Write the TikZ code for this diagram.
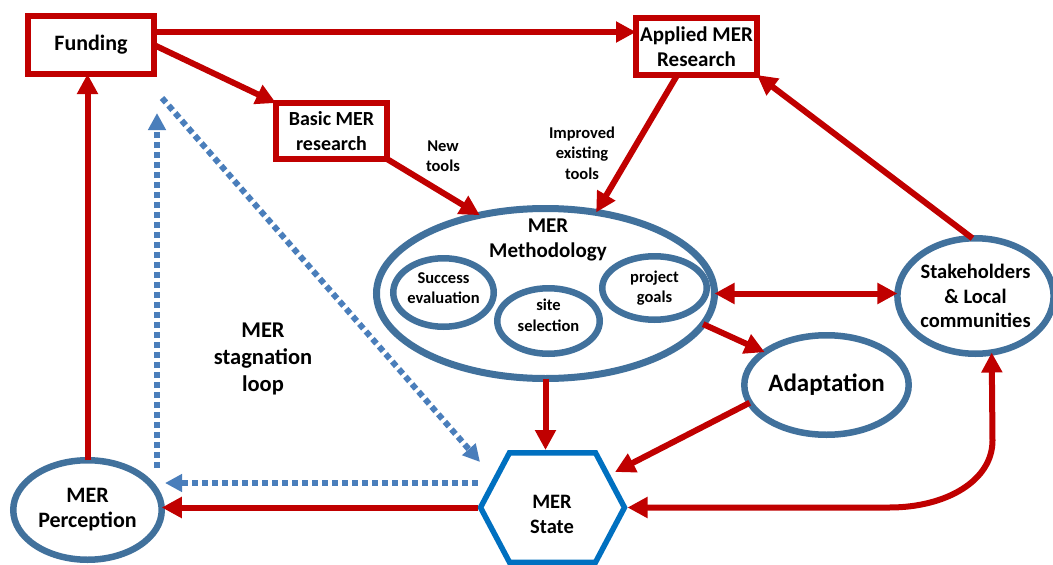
\documentclass[tikz,border=0pt]{standalone}
\usepackage{fontspec}
\setmainfont{Carlito}
\usetikzlibrary{arrows.meta,shapes.geometric,calc}
\definecolor{mred}{RGB}{192,0,0}
\definecolor{mblue}{RGB}{65,113,156}
\definecolor{hblue}{RGB}{0,112,192}
\definecolor{dblue}{RGB}{74,126,187}
\newcommand{\fs}[2]{\bfseries\fontsize{#1}{#2}\selectfont}
\begin{document}
\begin{tikzpicture}[x=1pt,y=-1pt,
  box/.style={draw=mred,line width=6pt,rectangle,inner sep=0pt,outer sep=0pt,align=center},
  oval/.style={draw=mblue,line width=6.5pt,ellipse,inner sep=0pt,outer sep=0pt,align=center},
  lbl/.style={align=center,inner sep=0pt},
  rarrow/.style={draw=mred,line width=6pt,-{Triangle[length=20pt,width=20pt]}},
  rdarrow/.style={draw=mred,line width=6pt,{Triangle[length=20pt,width=20pt]}-{Triangle[length=20pt,width=20pt]}},
  darrow/.style={draw=dblue,line width=6pt,dash pattern=on 6pt off 4pt,-{Triangle[length=17pt,width=17pt]}}
]
\fill[white] (0,0) rectangle (1053,565);
\useasboundingbox (0,0) rectangle (1053,565);

% boxes
\node[box,minimum width=126pt,minimum height=58pt,font=\fs{22}{26}] (fund) at (91,45) {Funding};
\node[box,minimum width=121pt,minimum height=57pt,font=\fs{21}{25.5}] (appl) at (696.5,46.5) {Applied MER\\Research};
\node[box,minimum width=111pt,minimum height=56pt,font=\fs{20}{25}] (basic) at (331.5,131) {Basic MER\\research};

% ellipses
\node[oval,line width=7pt,minimum width=338pt,minimum height=170pt] (meth) at (545.5,293.5) {};
\node[lbl,font=\fs{21}{25}] (methlbl) at (548,240) {MER\\Methodology};
\node[oval,minimum width=100.5pt,minimum height=68.5pt] (succ) at (443.5,292.5) {};
\node[lbl,font=\fs{16.5}{20.5}] (succlbl) at (443.5,288) {Success\\evaluation};
\node[oval,minimum width=102.5pt,minimum height=65.5pt] (site) at (548.5,321) {};
\node[lbl,font=\fs{16.5}{20.5}] (sitelbl) at (548.5,315.5) {site\\selection};
\node[oval,minimum width=104.5pt,minimum height=63.5pt,font=\fs{16.5}{20.5}] (proj) at (654.5,288) {project\\goals};
\node[oval,minimum width=146.5pt,minimum height=115.5pt,font=\fs{20.5}{24.5}] (stake) at (975.5,296) {Stakeholders\\\&~Local\\communities};
\node[oval,minimum width=146.5pt,minimum height=99.5pt,font=\fs{25}{30}] (adapt) at (826.5,385) {Adaptation};
\node[oval,minimum width=148.5pt,minimum height=99.5pt,font=\fs{22}{25}] (perc) at (87.5,510) {MER\\Perception};

% hexagon
\node[rectangle,draw=none,inner sep=0pt,outer sep=0pt,minimum width=150pt,minimum height=115pt] (state) at (552.5,507.5) {};
\draw[hblue,line width=5.5pt,line join=miter]
  ([xshift=3pt]state.west) -- ([shift={(32,2.75)}]state.north west) -- ([shift={(-32,2.75)}]state.north east)
  -- ([xshift=-3pt]state.east) -- ([shift={(-32,-2.75)}]state.south east) -- ([shift={(32,-2.75)}]state.south west) -- cycle;
\node[lbl,font=\fs{20.5}{25}] (statelbl) at (552,514) {MER\\State};

% free labels
\node[lbl,font=\fs{16.5}{20.5}] (newt) at (443,156) {New\\tools};
\node[lbl,font=\fs{16.5}{20.5}] (impr) at (582,153) {Improved\\existing\\tools};
\node[lbl,font=\fs{22.5}{27}] (loop) at (263,359) {MER\\stagnation\\loop};

% red connectors
\draw[rarrow] (fund.east |- 0,32) -- (appl.west |- 0,32);
\draw[rarrow] (fund.east) -- (basic.north west);
\draw[rarrow] (basic.south east) -- (meth.130);
\draw[rarrow] (appl.236) -- (meth.58);
\draw[rdarrow] (meth.east) -- (meth.east -| stake.west);
\draw[rarrow] (meth.-11) -- (adapt.152);
\draw[rarrow] (meth.south) -- (meth.south |- state.north);
\draw[rarrow] (adapt.193) -- ($(state)+(62.5,-35.5)$);
\draw[rarrow] (stake.93) -- (appl.south east);
\draw[rarrow] (state.west) -- (state.west -| perc.east);
\draw[rarrow] (perc.north) -- (perc.north |- fund.south);
\draw[rdarrow] (state.east) -- ++(262,0) .. controls +(57,0) and +(0,40) .. ++(103,-67) -- (stake.-74);

% dotted stagnation loop
\coordinate (d1) at (162,98);
\coordinate (v0) at (157,468);
\coordinate (v1) at (157,113);
\coordinate (h1) at (165,483);
\draw[darrow] (d1) -- ($(state)+(-72.5,-45.5)$);
\draw[darrow] (v0) -- (v1);
\draw[darrow] ($(state.west)+(0,-24.5)$) -- (h1);
\end{tikzpicture}
\end{document}
